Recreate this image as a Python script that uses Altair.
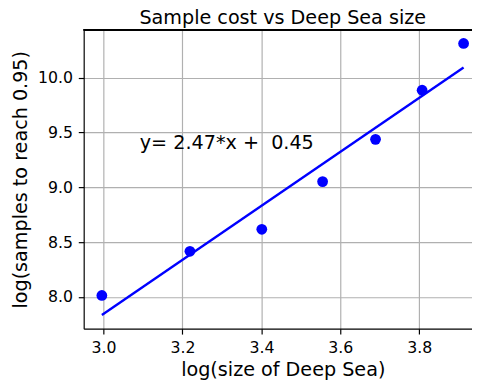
import altair as alt
import pandas as pd

# data
log_size = [2.996, 3.219, 3.401, 3.555, 3.689, 3.807, 3.912]
log_samples = [8.014, 8.417, 8.618, 9.053, 9.438, 9.886, 10.313]
x_ticks = [3.0, 3.2, 3.4, 3.6, 3.8]
y_ticks = [8.0, 8.5, 9.0, 9.5, 10.0]
annotation_text = ["y= 2.47*x + \u00a00.45"]
annotation_x = [3.092]
annotation_y = [9.35]

df = pd.DataFrame({"x": log_size, "y": log_samples})
ann = pd.DataFrame({"x": annotation_x, "y": annotation_y, "t": annotation_text})

W, H = 395, 304
FONT = "DejaVu Sans"
BIG = 19.5

xscale = alt.Scale(domain=[2.950, 3.9333], nice=False, zero=False)
yscale = alt.Scale(domain=[7.711, 10.437], nice=False, zero=False)

xaxis = alt.Axis(values=x_ticks, format=".1f", title="log(size of Deep Sea)",
                 titleX=202.5, titleY=48, titleBaseline="alphabetic",
                 titleAnchor="middle", titleAlign="center", labelPadding=6)
yaxis = alt.Axis(values=y_ticks, format=".1f", title="log(samples to reach 0.95)",
                 titleX=-58, titleBaseline="alphabetic", labelPadding=6)

base = alt.Chart(df)

points = base.mark_circle(color="#0000ff", opacity=1, size=120).encode(
    x=alt.X("x:Q", scale=xscale, axis=xaxis),
    y=alt.Y("y:Q", scale=yscale, axis=yaxis),
)

fit = base.transform_regression("x", "y", method="linear").mark_line(
    color="#0000ff", strokeWidth=2.4
).encode(x="x:Q", y="y:Q")

label = alt.Chart(ann).mark_text(
    align="left", baseline="alphabetic", font=FONT, fontSize=BIG, color="black"
).encode(x="x:Q", y="y:Q", text="t:N")

top_spine = alt.Chart(df).mark_rule(color="black", strokeWidth=1.2).encode(
    x=alt.value(0), x2=alt.value(W), y=alt.value(0)
)

chart = alt.layer(fit, points, label, top_spine).properties(
    width=W, height=H,
    title=alt.TitleParams("Sample cost vs Deep Sea size", font=FONT, fontSize=BIG,
                          fontWeight="normal", color="black", dx=5, offset=0.5),
    autosize=alt.AutoSizeParams(type="none"),
    padding={"left": 77, "top": 19, "right": 0, "bottom": 51},
).configure_view(stroke=None).configure_axis(
    labelFont=FONT, titleFont=FONT, labelFontSize=16, titleFontSize=BIG,
    titleFontWeight="normal", labelColor="black", titleColor="black",
    domainColor="black", domainWidth=1.2, tickColor="black", tickSize=5.5, tickWidth=1.2,
    gridColor="#b0b0b0", gridWidth=1.2,
)

chart.save("out.html", embed_options={"renderer": "svg", "actions": False})
